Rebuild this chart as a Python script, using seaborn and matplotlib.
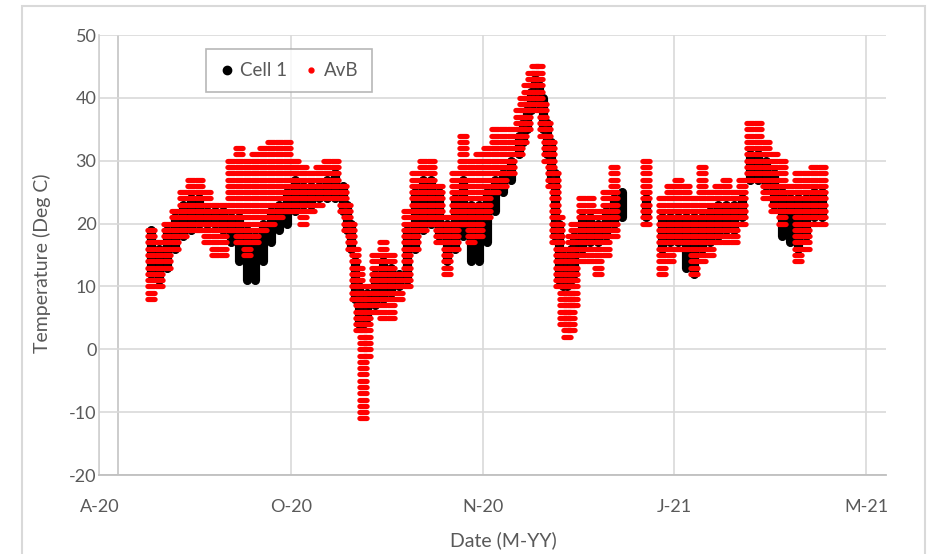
import numpy as np
import pandas as pd
import matplotlib
matplotlib.use("Agg")
import matplotlib.pyplot as plt
import seaborn as sns
from matplotlib.path import Path
from matplotlib.markers import MarkerStyle
from matplotlib.lines import Line2D
from matplotlib.patches import Rectangle

# ---- data (days since the first axis tick) ----
days = [13, 15, 17, 19, 21, 23, 25, 27, 29, 31, 33, 35, 37, 39, 41, 43, 45, 47, 49, 51,
        53, 55, 57, 59, 61, 62, 63, 64, 65, 66, 67, 69, 71, 73, 75, 77, 79, 81, 83, 85,
        87, 89, 91, 93, 95, 97, 99, 101, 103, 105, 106, 107, 108, 109, 110, 111, 112,
        113, 114, 115, 116, 117, 118, 119, 121, 123, 125, 127, 129, 131, 137, 141, 143,
        145, 147, 149, 151, 153, 155, 157, 159, 161, 163, 165, 167, 169, 171, 173, 175,
        177, 179, 181]
avb_lo = [8, 10, 13, 16, 18, 19, 19, 17, 15, 15, 19, 17, 15, 17, 19, 20, 21, 22, 22, 20,
          22, 23, 24, 24, 22, 19, 16, 8, 3, -11, -1, 6, 5, 5, 8, 10, 16, 19, 20, 17,
          12, 16, 20, 17, 18, 21, 25, 26, 28, 31, 33, 35, 38, 40, 38, 34, 30,
          26, 17, 10, 4, 2, 3, 7, 14, 14, 12, 15, 18, None, 20, 12, 14,
          16, 16, 12, 14, 15, 17, 17, 17, 20, 27, 27, 24, 22, 20, 22, 14,
          16, 20, 20]
avb_hi = [19, 17, 20, 22, 25, 27, 27, 25, 23, 23, 30, 32, 30, 31, 32, 33, 33, 33, 30, 29,
          28, 29, 30, 30, 26, 23, 20, 16, 13, 9, 10, 15, 17, 15, 12, 22, 28, 30, 30, 26,
          21, 28, 34, 30, 31, 32, 35, 35, 35, 38, 40, 42, 44, 45, 45, 39, 36,
          33, 28, 21, 16, 15, 18, 20, 24, 24, 22, 25, 29, None, 30, 24, 26,
          27, 26, 24, 29, 25, 26, 27, 25, 27, 36, 36, 33, 31, 30, 26, 28,
          28, 29, 29]
cell_lo = [12, 11, 13, 16, 18, 19, 20, 20, 20, 19, 17, 14, 11, 11, 14, 17, 19, 20, 22, 23,
           23, 24, 24, 24, 22, 19, 16, 8, 4, 4, 5, 7, 8, 9, 10, 11, 16, 19, 20, 18,
           14, 16, 18, 14, 14, 17, 22, 25, 27, 31, 33, 35, 38, 40, 39, 35, 31,
           27, 18, 11, 10, 10, 11, 12, 16, 17, 17, 18, 20, 21, 21, 16, 17,
           17, 13, 12, 16, 17, 18, 19, 19, 21, 27, 27, 26, 23, 18, 17, 16,
           18, 21, 21]
cell_hi = [19, 16, 19, 21, 23, 24, 24, 22, 22, 22, 21, 21, 19, 18, 20, 22, 23, 25, 27, 26,
           26, 26, 27, 28, 26, 23, 20, 14, 10, 6, 9, 12, 14, 13, 12, 19, 25, 27, 27, 25,
           20, 24, 27, 23, 23, 25, 27, 28, 30, 34, 36, 38, 41, 43, 42, 40, 36,
           33, 28, 20, 15, 13, 16, 18, 21, 21, 20, 22, 24, 25, 24, 21, 21,
           21, 21, 21, 21, 22, 23, 23, 23, 24, 31, 31, 30, 28, 25, 24, 24,
           24, 25, 25]
tick_days = [0, 48, 96, 144, 192]
tick_labels = ["A-20", "O-20", "N-20", "J-21", "M-21"]
y_ticks = [-20, -10, 0, 10, 20, 30, 40, 50]

# ---- long-form tables built from the arrays ----
red_rows = []
for d, lo, hi in zip(days, avb_lo, avb_hi):
    if lo is None:
        continue
    for t in range(int(lo), int(hi) + 1):
        red_rows.append({"day": d, "temp": t})
red_df = pd.DataFrame(red_rows)

blk_rows = []
for d, lo, hi in zip(days, cell_lo, cell_hi):
    if lo is None:
        continue
    blk_rows.append({"day": d, "temp": lo, "unit": d})
    blk_rows.append({"day": d, "temp": hi, "unit": d})
blk_df = pd.DataFrame(blk_rows)

# ---- style ----
sns.set_style("white")
plt.rcParams["font.family"] = ["Lato", "DejaVu Sans"]
plt.rcParams["axes.unicode_minus"] = False
grey_txt = "#595959"

fig = plt.figure(figsize=(9.34, 5.54), dpi=100)
ax = fig.add_axes([99.25 / 934, 1 - 475 / 554, (886 - 99.25) / 934, 440 / 554])

# stripe marker (rounded horizontal dash)
th = np.linspace(-np.pi / 2, np.pi / 2, 7)
r = 0.42
right = [(1 - r + r * np.cos(a), r * np.sin(a)) for a in th]
left = [(-(1 - r) - r * np.cos(a), -r * np.sin(a)) for a in th]
verts = right + left + [right[0]]
stripe = MarkerStyle(Path(verts, closed=True))

# Cell 1: solid vertical bars
sns.lineplot(data=blk_df, x="day", y="temp", units="unit", estimator=None, sort=False,
             color="black", linewidth=6.6, ax=ax, legend=False, solid_capstyle="round")
# AvB: integer readings drawn as horizontal stripes
sns.scatterplot(data=red_df, x="day", y="temp", marker=stripe, s=80, color="#ff0000",
                linewidth=0, ax=ax, legend=False, zorder=3)

ax.set_xlim(0, 197)
ax.set_ylim(-20, 50)
ax.set_xticks(tick_days)
ax.set_xticklabels(tick_labels)
ax.set_yticks(y_ticks)
ax.set_xlabel("")
ax.set_ylabel("")
ax.grid(True, color="#d9d9d9", linewidth=1.2)
ax.set_axisbelow(True)
ax.axvline(4.7, color="#c8c8c8", linewidth=1.3, zorder=0.5)
for s in ["top", "right"]:
    ax.spines[s].set_visible(False)
ax.spines["left"].set_color("#d0d0d0")
ax.spines["left"].set_linewidth(1.2)
ax.spines["bottom"].set_color("#bfbfbf")
ax.spines["bottom"].set_linewidth(1.3)
ax.tick_params(axis="y", length=0, pad=2, labelsize=13, labelcolor=grey_txt)
ax.tick_params(axis="x", length=0, pad=17, labelsize=13, labelcolor=grey_txt)

fig.text(42 / 934, 1 - 263 / 554, "Temperature (Deg C)", rotation=90, ha="center",
         va="center", fontsize=14, color=grey_txt)
fig.text(503 / 934, 1 - 540 / 554, "Date (M-YY)", ha="center", va="center",
         fontsize=14, color=grey_txt)

handles = [Line2D([], [], marker="o", linestyle="none", color="black", markersize=6),
           Line2D([], [], marker="o", linestyle="none", color="#ff0000", markersize=3.5)]
leg = fig.legend(handles, ["Cell 1", "AvB"], ncol=2, loc="upper left",
                 bbox_to_anchor=(206 / 934, 1 - 49 / 554), bbox_transform=fig.transFigure,
                 borderaxespad=0, frameon=True, fancybox=False, fontsize=13.5,
                 handlelength=0.8, handletextpad=0.3, columnspacing=0.9, borderpad=0.7,
                 labelcolor=grey_txt)
leg.get_frame().set_edgecolor("#a6a6a6")
leg.get_frame().set_linewidth(1.2)

fig.add_artist(Rectangle((22 / 934, -0.05), (925 - 22) / 934, 1.05 - 6 / 554,
                         transform=fig.transFigure, fill=False, edgecolor="#d9d9d9",
                         linewidth=1.5))

fig.savefig("out.png", dpi=100)
